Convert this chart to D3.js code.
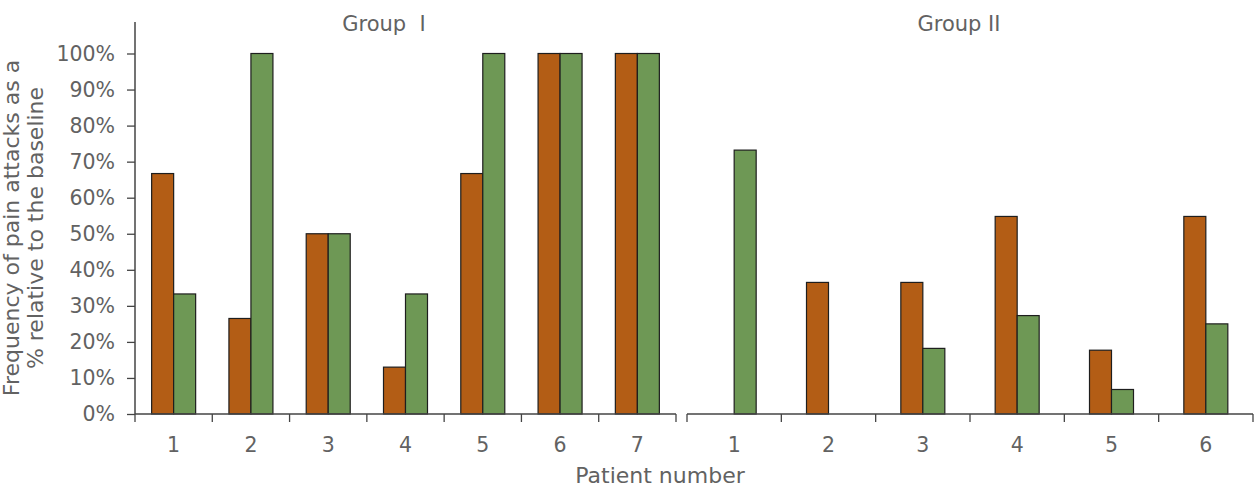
<!DOCTYPE html>
<html>
<head>
<meta charset="utf-8">
<script src="https://cdn.jsdelivr.net/npm/d3@7"></script>
<style>
body { margin: 0; background: #fff; }
text { font-family: "DejaVu Sans", sans-serif; }
</style>
</head>
<body>
<div id="canvas_001"></div>
<script>
// ----------------------------------------------------------
// DATA -----------------------------------------------------
// ----------------------------------------------------------
var patients_group_1 = ["1", "2", "3", "4", "5", "6", "7"];
var patients_group_2 = ["1", "2", "3", "4", "5", "6"];
var series_keys = ["first", "second"];
// values as fraction of baseline
var group_1_first = [0.667, 0.265, 0.50, 0.13, 0.667, 1.00, 1.00];
var group_1_second = [0.333, 1.00, 0.50, 0.333, 1.00, 1.00, 1.00];
var group_2_first = [0, 0.365, 0.365, 0.548, 0.177, 0.548];
var group_2_second = [0.732, 0, 0.182, 0.273, 0.068, 0.25];
var y_ticks = [0, 0.1, 0.2, 0.3, 0.4, 0.5, 0.6, 0.7, 0.8, 0.9, 1.0];
var group_titles = ["Group  I", "Group II"];

// ----------------------------------------------------------
// SETTINGS -------------------------------------------------
// ----------------------------------------------------------
var data_set_001 = {
container_width: 1254,
container_height: 489,
baseline_y: 414,
top_y: 53.5,
axis_top_y: 22,
axis_x: 135,
group_1_range: [135, 676],
group_2_range: [687, 1253],
bar_width: 22,
font_size: 20.5,
font_size_title: 22,
color_first: "#b35d15",
color_second: "#6e9855",
color_stroke: "#1e1e1e",
color_axis: "#444",
color_text: "#626262"
};

// ----------------------------------------------------------
// STRUCTURE ------------------------------------------------
// ----------------------------------------------------------
var container_001 = d3.select("#canvas_001").append("svg")
.attr("width", data_set_001.container_width)
.attr("height", data_set_001.container_height)
.style("display", "block")
.style("background-color", "#fff");

var gfx_group_001 = container_001.append("g").attr("class", "gfx_group");
var text_group_001 = container_001.append("g").attr("class", "text_group");

// ----------------------------------------------------------
// SCALES ---------------------------------------------------
// ----------------------------------------------------------
var yScale_001 = d3.scaleLinear()
.domain([0, 1])
.range([data_set_001.baseline_y, data_set_001.top_y]);

var colorScale_001 = d3.scaleOrdinal()
.domain(series_keys)
.range([data_set_001.color_first, data_set_001.color_second]);

var groups_001 = [
{ title: group_titles[0], patients: patients_group_1, range: data_set_001.group_1_range,
  first: group_1_first, second: group_1_second, title_x: 384 },
{ title: group_titles[1], patients: patients_group_2, range: data_set_001.group_2_range,
  first: group_2_first, second: group_2_second, title_x: 959 }
];

// ----------------------------------------------------------
// Y AXIS ---------------------------------------------------
// ----------------------------------------------------------
var yAxis_001 = gfx_group_001.append("g")
.attr("transform", "translate(" + data_set_001.axis_x + ",0)")
.call(d3.axisLeft(yScale_001)
.tickValues(y_ticks)
.tickSize(8)
.tickPadding(12)
.tickFormat(d3.format(".0%")));
yAxis_001.select(".domain").remove();
yAxis_001.selectAll(".tick line").attr("stroke", data_set_001.color_axis).attr("stroke-width", 1.3);
yAxis_001.selectAll(".tick text")
.style("font-size", data_set_001.font_size + "px")
.style("fill", data_set_001.color_text)
.attr("font-family", null);
// vertical axis line, running above 100%
gfx_group_001.append("line")
.attr("x1", data_set_001.axis_x).attr("x2", data_set_001.axis_x)
.attr("y1", data_set_001.axis_top_y).attr("y2", data_set_001.baseline_y)
.attr("stroke", data_set_001.color_axis)
.attr("stroke-width", 1.5);

// ----------------------------------------------------------
// GROUPS ---------------------------------------------------
// ----------------------------------------------------------
groups_001.forEach(function(grp) {
var xScale = d3.scaleBand()
.domain(grp.patients)
.range(grp.range)
.padding(0);

// inner scale so each bar keeps the same pixel width
var outer = (xScale.bandwidth() / data_set_001.bar_width - series_keys.length) / 2;
var xInner = d3.scaleBand()
.domain(series_keys)
.range([0, xScale.bandwidth()])
.paddingInner(0)
.paddingOuter(outer);

// bars
var rows = grp.patients.map(function(p, i) {
return { patient: p, first: grp.first[i], second: grp.second[i] };
});
gfx_group_001.append("g")
.selectAll("g")
.data(rows)
.join("g")
.attr("transform", function(d) { return "translate(" + xScale(d.patient) + ",0)"; })
.selectAll("rect")
.data(function(d) {
return series_keys.map(function(k) { return { key: k, value: d[k] }; })
.filter(function(e) { return e.value > 0; });
})
.join("rect")
.attr("x", function(d) { return xInner(d.key); })
.attr("y", function(d) { return yScale_001(d.value); })
.attr("width", xInner.bandwidth())
.attr("height", function(d) { return yScale_001(0) - yScale_001(d.value); })
.style("fill", function(d) { return colorScale_001(d.key); })
.style("stroke", data_set_001.color_stroke)
.style("stroke-width", 1.2);

// x axis with ticks at the band edges
var xAxis = gfx_group_001.append("g")
.attr("transform", "translate(0," + data_set_001.baseline_y + ")");
xAxis.append("line")
.attr("x1", grp.range[0]).attr("x2", grp.range[1])
.attr("stroke", data_set_001.color_axis)
.attr("stroke-width", 1.5);
var edges = grp.patients.map(function(p) { return xScale(p); }).concat([grp.range[1]]);
xAxis.selectAll(".edge")
.data(edges)
.join("line")
.attr("class", "edge")
.attr("x1", function(d) { return d; }).attr("x2", function(d) { return d; })
.attr("y1", 0).attr("y2", 8)
.attr("stroke", data_set_001.color_axis)
.attr("stroke-width", 1.3);
xAxis.selectAll(".label")
.data(grp.patients)
.join("text")
.attr("class", "label")
.attr("x", function(d) { return xScale(d) + xScale.bandwidth() / 2; })
.attr("y", 38)
.attr("text-anchor", "middle")
.style("font-size", data_set_001.font_size + "px")
.style("fill", data_set_001.color_text)
.text(function(d) { return d; });

// group title
text_group_001.append("text")
.attr("x", grp.title_x)
.attr("y", 31)
.attr("text-anchor", "middle")
.attr("xml:space", "preserve")
.style("white-space", "pre")
.style("font-size", "21px")
.style("fill", data_set_001.color_text)
.text(grp.title);
});

// ----------------------------------------------------------
// TEXT -----------------------------------------------------
// ----------------------------------------------------------
// y axis title, two lines
var y_title_001 = text_group_001.append("text")
.attr("transform", "translate(19,228) rotate(-90)")
.attr("text-anchor", "middle")
.style("font-size", data_set_001.font_size_title + "px")
.style("fill", data_set_001.color_text);
y_title_001.append("tspan").attr("x", 0).attr("y", 0).text("Frequency of pain attacks as a");
y_title_001.append("tspan").attr("x", 0).attr("y", 24).text("% relative to the baseline");

// x axis title
text_group_001.append("text")
.attr("x", 660)
.attr("y", 483)
.attr("text-anchor", "middle")
.style("font-size", data_set_001.font_size_title + "px")
.style("fill", data_set_001.color_text)
.text("Patient number");
</script>
</body>
</html>
